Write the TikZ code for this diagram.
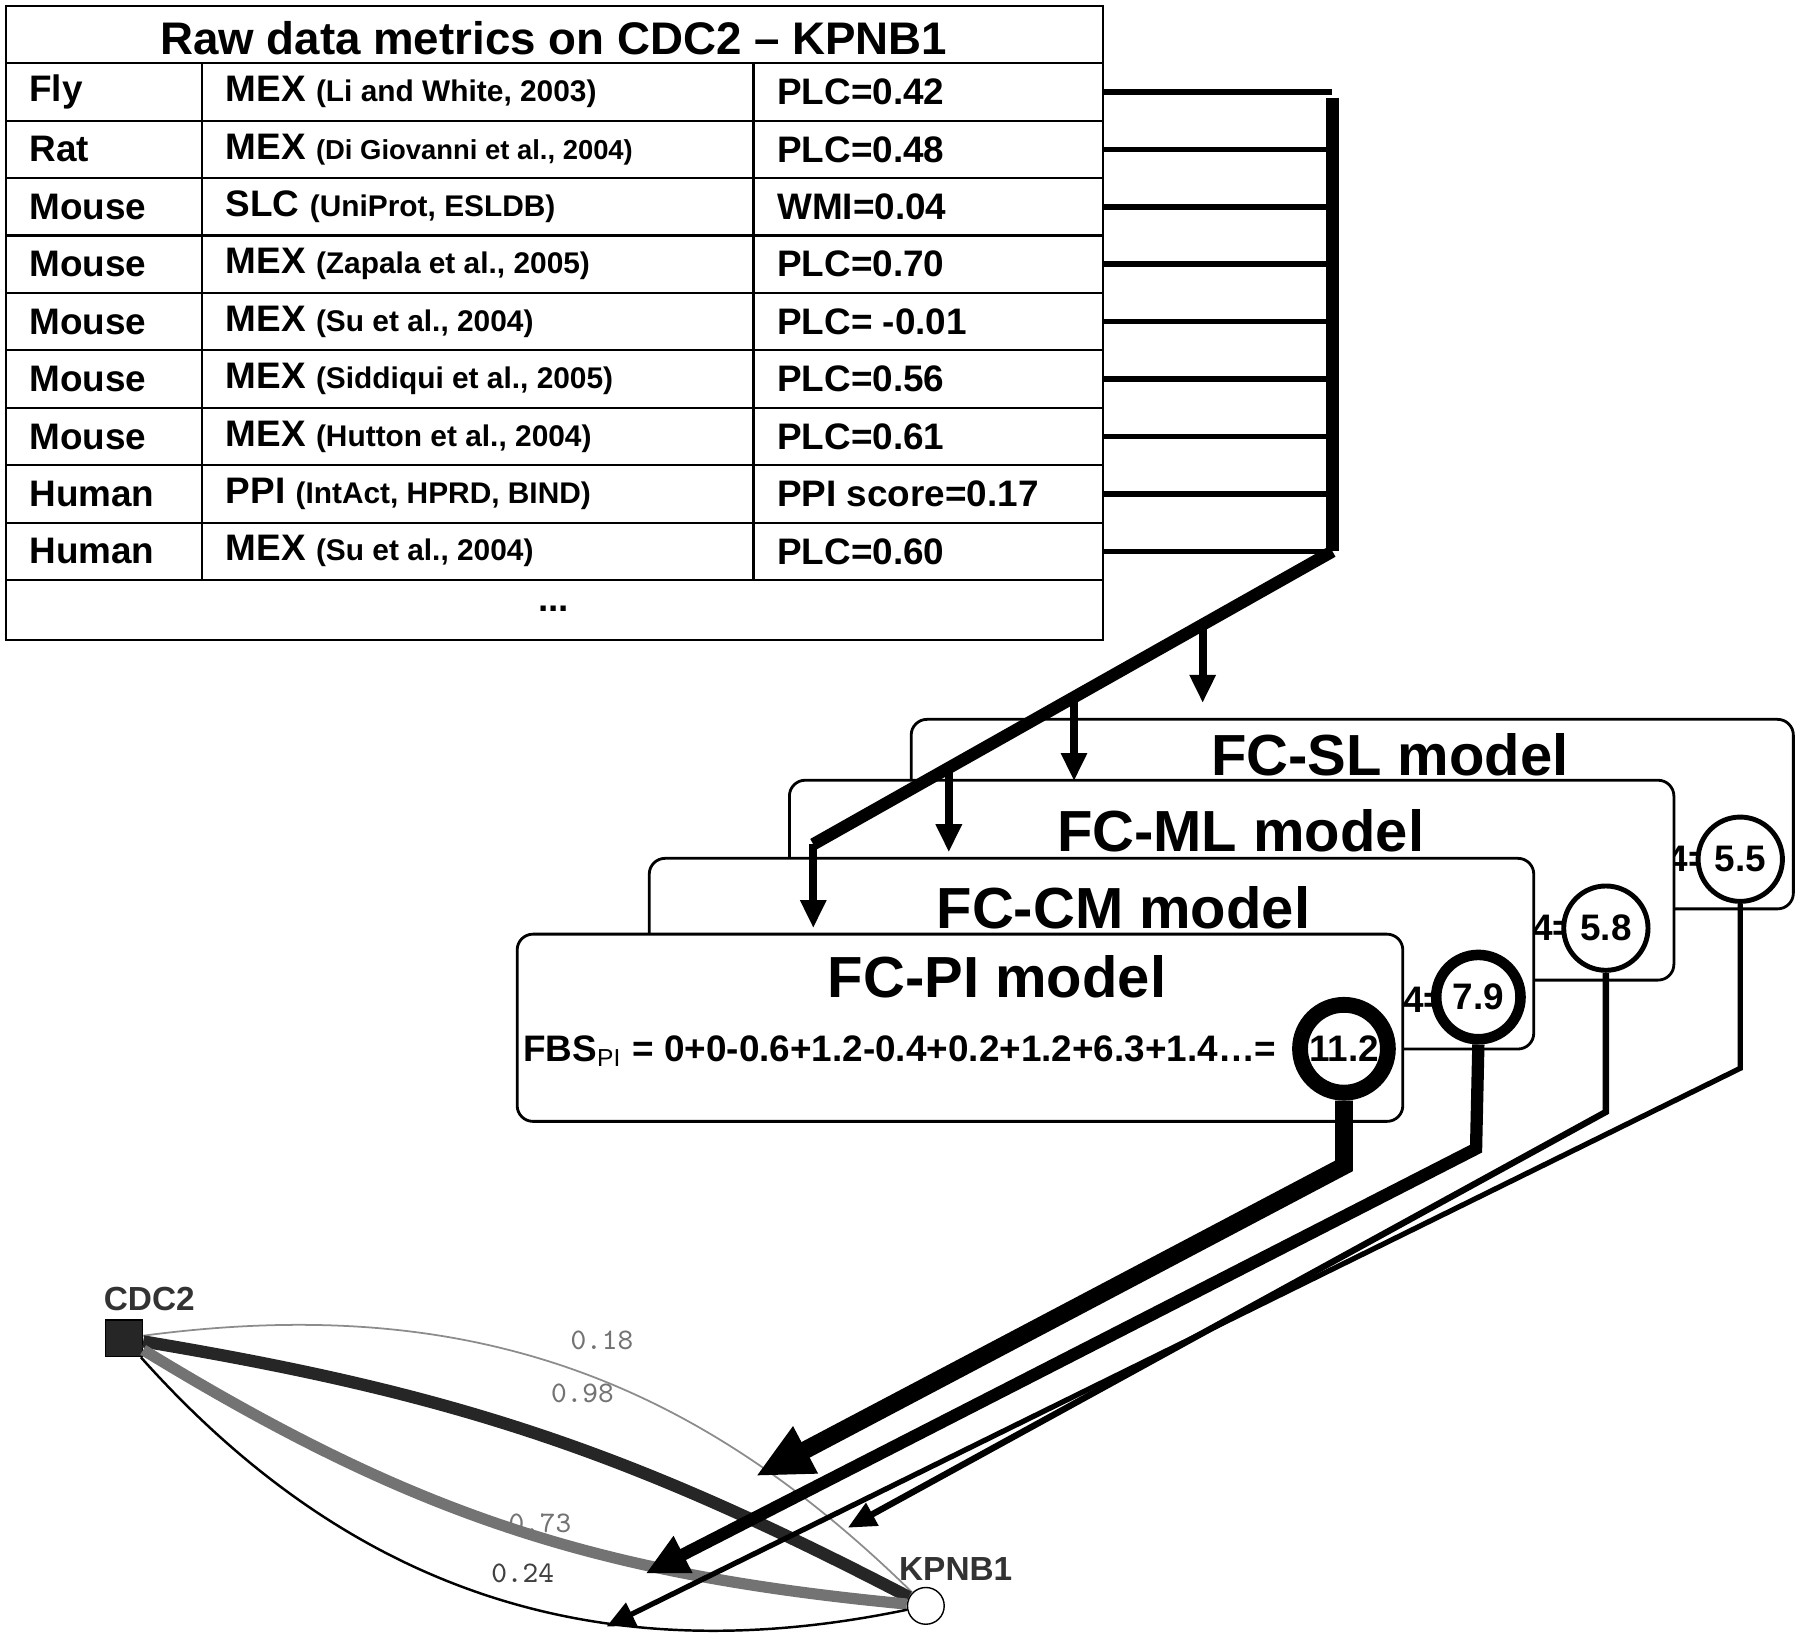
\documentclass[tikz,border=0pt]{standalone}
\usepackage{fontspec}
\setmainfont{Liberation Sans}
\usetikzlibrary{arrows.meta,calc}
\tikzstyle{cell}=[anchor=west,inner sep=0pt,font=\bfseries\fontsize{10.5}{12}\selectfont]
\tikzstyle{model}=[draw=black,line width=0.8pt,rounded corners=0.45em,fill=white,anchor=north west,inner sep=0pt]
\tikzstyle{mtitle}=[inner sep=0pt,font=\bfseries\fontsize{16.5}{18}\selectfont]
\tikzstyle{score}=[circle,draw=black,fill=white,inner sep=0pt,minimum size=2.4em,font=\bfseries\fontsize{10.5}{12}\selectfont]
\tikzstyle{feed}=[line width=2.2pt,-{Triangle[length=8pt,width=7pt]}]
\tikzstyle{elabel}=[inner sep=0pt,text=black!55,font=\ttfamily\fontsize{8.5}{10}\selectfont]
\newcommand{\sm}[1]{{\fontsize{8.5}{10}\selectfont #1}}
\begin{document}
\begin{tikzpicture}[x=0.1149mm,y=-0.1149mm]
  \useasboundingbox (0,0) rectangle (1567,1434);
  % table
  \draw[line width=0.6pt] (5,5) rectangle (960,557);
  \node[inner sep=0pt,font=\bfseries\fontsize{13}{15}\selectfont] (title) at (482,33) {Raw data metrics on CDC2 -- KPNB1};
  \foreach \y in {55,105,...,505} \draw[line width=0.6pt] (5,\y) -- (960,\y);
  \draw[line width=0.6pt] (176,55) -- (176,505) (656,55) -- (656,505);
  \node[inner sep=0pt,font=\bfseries\fontsize{10.5}{12}\selectfont] (dots) at (482,530) {...};
  \foreach \org/\kind/\src/\val [count=\i] in {
      Fly/MEX/{\sm{(Li and White, 2003)}}/PLC=0.42,
      Rat/MEX/{{\fontsize{7.8}{9}\selectfont (Di Giovanni et al., 2004)}}/PLC=0.48,
      Mouse/SLC/{\sm{(UniProt, ESLDB)}}/WMI=0.04,
      Mouse/MEX/{\sm{(Zapala et al., 2005)}}/PLC=0.70,
      Mouse/MEX/{\sm{(Su et al., 2004)}}/PLC= -0.01,
      Mouse/MEX/{\sm{(Siddiqui et al., 2005)}}/PLC=0.56,
      Mouse/MEX/{\sm{(Hutton et al., 2004)}}/PLC=0.61,
      Human/PPI/{\sm{(IntAct, HPRD, BIND)}}/PPI score=0.17,
      Human/MEX/{\sm{(Su et al., 2004)}}/PLC=0.60} {
    \pgfmathsetmacro{\ry}{30+50*\i}
    \node[cell] (org\i) at (25,\ry) {\org};
    \node[cell] (src\i) at (196,\ry) {\kind\ \src};
    \node[cell] (val\i) at (676,\ry) {\val};
    \coordinate (e\i) at (960,\ry);
    \coordinate (b\i) at (1160,\ry);
    \draw[line width=1.6pt] (e\i) -- (b\i);
  }
  \draw[line width=3.5pt] ($(b1)+(0,5)$) -- (b9);
  % model boxes
  \node[model,minimum width=768*0.1149mm,minimum height=165*0.1149mm] (sl) at (792,625) {};
  \node[mtitle] (slt) at (1210,657) {FC-SL model};
  \node[inner sep=0pt,font=\bfseries\fontsize{10.5}{12}\selectfont] (sl4) at (1470,748) {4=};
  \node[score,line width=1.4pt] (c55) at (1515,748) {5.5};
  \node[model,minimum width=770*0.1149mm,minimum height=174*0.1149mm] (ml) at (686,678) {};
  \node[mtitle] (mlt) at (1080,723) {FC-ML model};
  \node[inner sep=0pt,font=\bfseries\fontsize{10.5}{12}\selectfont] (ml4) at (1352,808) {4=};
  \node[score,line width=1.4pt] (c58) at (1398,808) {5.8};
  \node[model,minimum width=770*0.1149mm,minimum height=166*0.1149mm] (cm) at (564,746) {};
  \node[mtitle] (cmt) at (978,790) {FC-CM model};
  \node[inner sep=0pt,font=\bfseries\fontsize{10.5}{12}\selectfont] (cm4) at (1240,870) {4=};
  \node[score,line width=3pt] (c79) at (1287,868) {7.9};
  \node[model,minimum width=771*0.1149mm,minimum height=163*0.1149mm] (pi) at (449,812) {};
  \node[mtitle] (pit) at (868,850) {FC-PI model};
  \node[cell] (fbs) at (455,915) {FBS\textsubscript{\fontsize{7}{8}\selectfont\mdseries PI} = 0+0-0.6+1.2-0.4+0.2+1.2+6.3+1.4\ldots=};
  \node[score,line width=4.5pt,minimum size=2.5em] (c112) at (1170,913) {11.2};
  % feeding arrows
  \coordinate (d0) at (1047,545);
  \coordinate (d1) at (935,610);
  \coordinate (d2) at (826,672);
  \coordinate (d3) at (708,735);
  \draw[line width=3.5pt] (b9) -- (d3);
  \draw[feed] (d0) -- (1047,612);
  \draw[feed] (d1) -- (935,680);
  \draw[feed] (d2) -- (826,742);
  \draw[feed] (d3) -- (708,808);
  % network
  \node[draw=black,fill=black!85,minimum size=32*0.1149mm,inner sep=0pt] (cdc) at (108,1165) {};
  \node[circle,draw=black,fill=white,minimum size=32*0.1149mm,inner sep=0pt] (kpn) at (806,1398) {};
  \node[inner sep=0pt,font=\bfseries\fontsize{9.5}{11}\selectfont,text=black!80] (cdcl) at (130,1131) {CDC2};
  \node[inner sep=0pt,font=\bfseries\fontsize{9.5}{11}\selectfont,text=black!80] (kpnl) at (832,1366) {KPNB1};
  \draw[black!45,line width=0.5pt] (cdc) to[bend left=26] (kpn);
  \draw[black!85,line width=3.5pt] (cdc) to[bend left=9] (kpn);
  \draw[black!55,line width=3.2pt] (cdc) to[bend right=13] (kpn);
  \draw[black,line width=0.7pt] (cdc) to[bend right=30] (kpn);
  \node[elabel] (l18) at (524,1167) {0.18};
  \node[elabel] (l98) at (507,1213) {0.98};
  \node[elabel] (l73) at (470,1326) {0.73};
  \node[elabel,text=black!75] (l24) at (455,1370) {0.24};
  % score links
  \coordinate (t112) at (1170,1015);
  \coordinate (t79) at (1285,1000);
  \coordinate (t58) at (1398,968);
  \coordinate (t55) at (1515,930);
  \coordinate (h112) at (658,1285);
  \coordinate (h79) at (562,1370);
  \coordinate (h58) at (738,1330);
  \coordinate (h55) at (528,1416);
  \draw[line width=5pt,-{Triangle[length=16pt,width=14pt]}] (c112.south) -- (t112) -- (h112);
  \draw[line width=3.5pt,-{Triangle[length=12pt,width=11pt]}] (c79.south) -- (t79) -- (h79);
  \draw[line width=1.8pt,-{Triangle[length=8pt,width=7pt]}] (c58.south) -- (t58) -- (h58);
  \draw[line width=1.5pt,-{Triangle[length=8pt,width=7pt]}] (c55.south) -- (t55) -- (h55);
\end{tikzpicture}
\end{document}
